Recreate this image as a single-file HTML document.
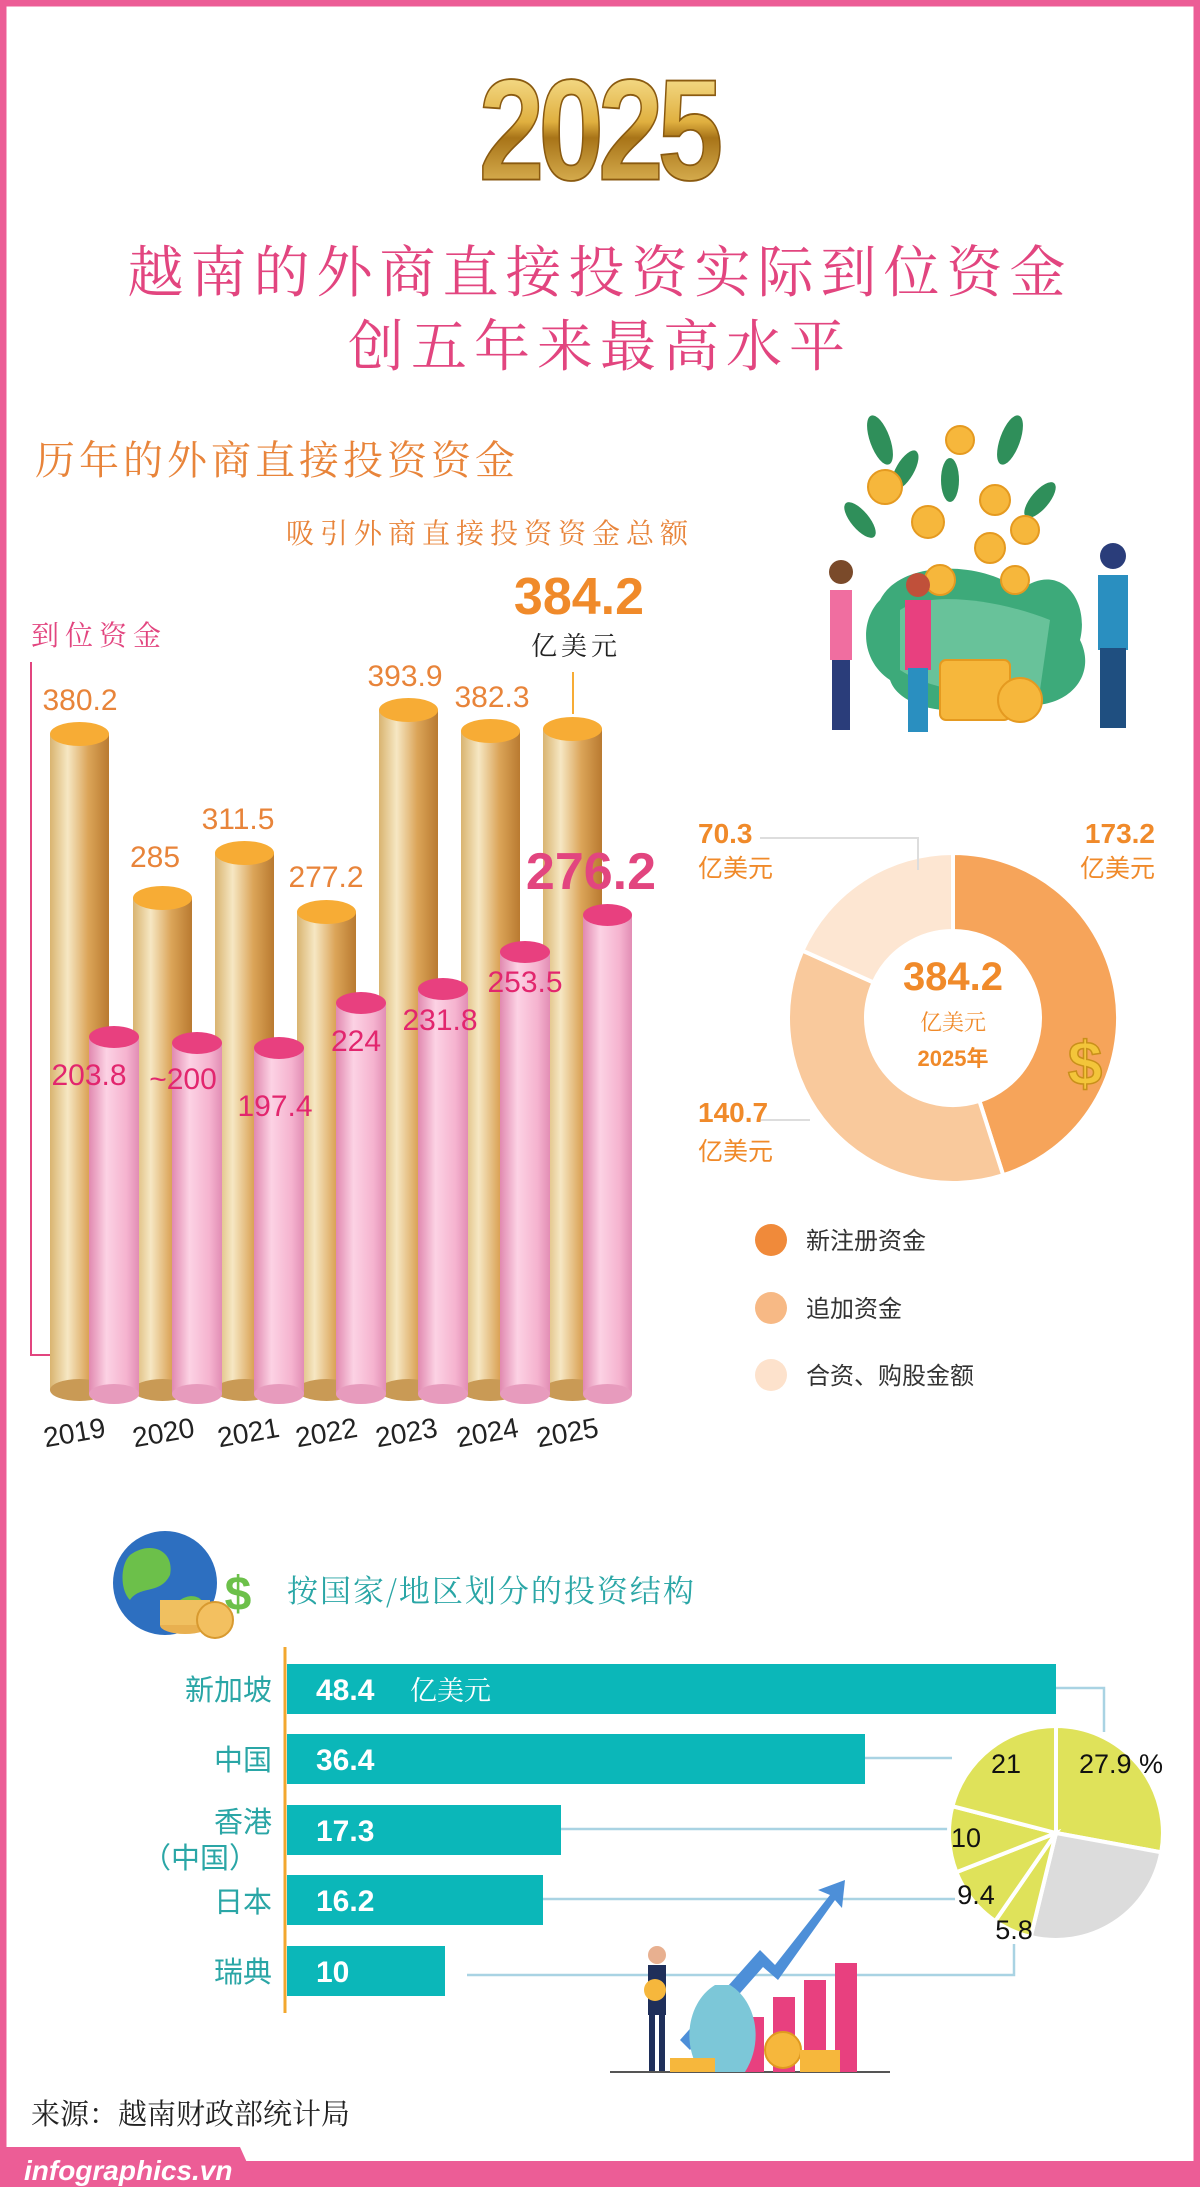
<!DOCTYPE html>
<html><head><meta charset="utf-8">
<style>
html,body{margin:0;padding:0;background:#fff;}
svg{display:block;}
text{font-family:"Liberation Sans","Noto Sans CJK SC",sans-serif;}
.s{font-family:"Noto Serif CJK SC","Liberation Serif",serif;}
</style></head><body>
<svg width="1200" height="2187" viewBox="0 0 1200 2187" xmlns="http://www.w3.org/2000/svg">
<defs>
<linearGradient id="gold" x1="0" x2="1" y1="0" y2="0">
<stop offset="0" stop-color="#d9b470"/><stop offset="0.3" stop-color="#f6e7c3"/><stop offset="0.65" stop-color="#dba458"/><stop offset="1" stop-color="#b97a30"/></linearGradient>
<linearGradient id="pink" x1="0" x2="1" y1="0" y2="0">
<stop offset="0" stop-color="#e189b0"/><stop offset="0.35" stop-color="#fcd2e4"/><stop offset="0.75" stop-color="#f5b3cf"/><stop offset="1" stop-color="#e28db5"/></linearGradient>
<linearGradient id="g25" x1="0" x2="0" y1="0" y2="1">
<stop offset="0" stop-color="#fff2b0"/><stop offset="0.45" stop-color="#e0b040"/><stop offset="0.55" stop-color="#a87418"/><stop offset="1" stop-color="#f3d070"/></linearGradient>
</defs>
<rect x="0" y="0" width="1200" height="2187" fill="#fff"/>
<rect x="3" y="3" width="1194" height="2181" fill="none" stroke="#ec5d96" stroke-width="7"/>

<text x="598" y="180" text-anchor="middle" font-size="118" font-weight="bold" fill="url(#g25)" stroke="#8a5a10" stroke-width="1.5" letter-spacing="-6" transform="translate(0,-40) scale(1,1.22)">2025</text>

<text class="s" x="600" y="292" text-anchor="middle" font-size="56" fill="#e2457f" letter-spacing="7">越南的外商直接投资实际到位资金</text>
<text class="s" x="600" y="366" text-anchor="middle" font-size="56" fill="#e2457f" letter-spacing="7">创五年来最高水平</text>

<text class="s" x="35" y="474" font-size="40" fill="#e8843a" letter-spacing="4">历年的外商直接投资资金</text>
<text class="s" x="286" y="543" font-size="28" fill="#e8843a" letter-spacing="6">吸引外商直接投资资金总额</text>
<text class="s" x="31" y="645" font-size="28" fill="#e2457f" letter-spacing="6">到位资金</text>
<path d="M31 662 V1355 H86" fill="none" stroke="#e2457f" stroke-width="2"/>

<!-- gold cylinders -->
<g>
<rect x="50" y="734" width="59" height="656" fill="url(#gold)"/><ellipse cx="79.5" cy="1390" rx="29.5" ry="11" fill="#c99a55"/><ellipse cx="79.5" cy="734" rx="29.5" ry="12" fill="#f7ac35"/>
<rect x="133" y="898" width="59" height="492" fill="url(#gold)"/><ellipse cx="162.5" cy="1390" rx="29.5" ry="11" fill="#c99a55"/><ellipse cx="162.5" cy="898" rx="29.5" ry="12" fill="#f7ac35"/>
<rect x="215" y="853" width="59" height="537" fill="url(#gold)"/><ellipse cx="244.5" cy="1390" rx="29.5" ry="11" fill="#c99a55"/><ellipse cx="244.5" cy="853" rx="29.5" ry="12" fill="#f7ac35"/>
<rect x="297" y="912" width="59" height="478" fill="url(#gold)"/><ellipse cx="326.5" cy="1390" rx="29.5" ry="11" fill="#c99a55"/><ellipse cx="326.5" cy="912" rx="29.5" ry="12" fill="#f7ac35"/>
<rect x="379" y="710" width="59" height="680" fill="url(#gold)"/><ellipse cx="408.5" cy="1390" rx="29.5" ry="11" fill="#c99a55"/><ellipse cx="408.5" cy="710" rx="29.5" ry="12" fill="#f7ac35"/>
<rect x="461" y="731" width="59" height="659" fill="url(#gold)"/><ellipse cx="490.5" cy="1390" rx="29.5" ry="11" fill="#c99a55"/><ellipse cx="490.5" cy="731" rx="29.5" ry="12" fill="#f7ac35"/>
<rect x="543" y="729" width="59" height="661" fill="url(#gold)"/><ellipse cx="572.5" cy="1390" rx="29.5" ry="11" fill="#c99a55"/><ellipse cx="572.5" cy="729" rx="29.5" ry="12" fill="#f7ac35"/>
</g>
<!-- pink cylinders -->
<g>
<rect x="89" y="1037" width="50" height="357" fill="url(#pink)"/><ellipse cx="114" cy="1394" rx="25" ry="10" fill="#e79bbd"/><ellipse cx="114" cy="1037" rx="25" ry="11" fill="#e8407f"/>
<rect x="172" y="1043" width="50" height="351" fill="url(#pink)"/><ellipse cx="197" cy="1394" rx="25" ry="10" fill="#e79bbd"/><ellipse cx="197" cy="1043" rx="25" ry="11" fill="#e8407f"/>
<rect x="254" y="1048" width="50" height="346" fill="url(#pink)"/><ellipse cx="279" cy="1394" rx="25" ry="10" fill="#e79bbd"/><ellipse cx="279" cy="1048" rx="25" ry="11" fill="#e8407f"/>
<rect x="336" y="1003" width="50" height="391" fill="url(#pink)"/><ellipse cx="361" cy="1394" rx="25" ry="10" fill="#e79bbd"/><ellipse cx="361" cy="1003" rx="25" ry="11" fill="#e8407f"/>
<rect x="418" y="989" width="50" height="405" fill="url(#pink)"/><ellipse cx="443" cy="1394" rx="25" ry="10" fill="#e79bbd"/><ellipse cx="443" cy="989" rx="25" ry="11" fill="#e8407f"/>
<rect x="500" y="952" width="50" height="442" fill="url(#pink)"/><ellipse cx="525" cy="1394" rx="25" ry="10" fill="#e79bbd"/><ellipse cx="525" cy="952" rx="25" ry="11" fill="#e8407f"/>
<rect x="583" y="915" width="49" height="479" fill="url(#pink)"/><ellipse cx="607.5" cy="1394" rx="24.5" ry="10" fill="#e79bbd"/><ellipse cx="607.5" cy="915" rx="24.5" ry="11" fill="#e8407f"/>
</g>
<g font-size="30" fill="#e8843a" text-anchor="middle">
<text x="80" y="710">380.2</text><text x="155" y="867">285</text><text x="238" y="829">311.5</text><text x="326" y="887">277.2</text><text x="405" y="686">393.9</text><text x="492" y="707">382.3</text>
</g>
<g font-size="30" fill="#e2266e" text-anchor="middle">
<text x="89" y="1085">203.8</text><text x="183" y="1089">~200</text><text x="275" y="1116">197.4</text><text x="356" y="1051">224</text><text x="440" y="1030">231.8</text><text x="525" y="992">253.5</text>
</g>
<text x="591" y="889" text-anchor="middle" font-size="52" font-weight="bold" fill="#e2457f">276.2</text>
<text x="579" y="614" text-anchor="middle" font-size="52" font-weight="bold" fill="#f08a2a">384.2</text>
<text class="s" x="576" y="655" text-anchor="middle" font-size="26" fill="#222" letter-spacing="4">亿美元</text>
<line x1="573" y1="672" x2="573" y2="714" stroke="#f7ac35" stroke-width="2"/>
<g font-size="28" fill="#222" text-anchor="middle">
<text transform="translate(76,1442) rotate(-10)">2019</text><text transform="translate(165,1442) rotate(-10)">2020</text><text transform="translate(250,1442) rotate(-10)">2021</text><text transform="translate(328,1442) rotate(-10)">2022</text><text transform="translate(408,1442) rotate(-10)">2023</text><text transform="translate(489,1442) rotate(-10)">2024</text><text transform="translate(569,1442) rotate(-10)">2025</text>
</g>

<!-- top right illustration -->
<g>
<path d="M880 600 C900 560 980 560 1020 590 C1060 560 1090 600 1080 640 C1100 680 1060 720 1000 700 C960 720 900 710 890 680 C860 660 860 620 880 600Z" fill="#3daa7a"/>
<path d="M900 610 C930 590 1000 600 1050 620 L1040 690 C990 700 930 690 900 670Z" fill="#68c29a"/>
<g fill="#2f8f5a">
<ellipse cx="880" cy="440" rx="10" ry="26" transform="rotate(-20 880 440)"/><ellipse cx="905" cy="470" rx="9" ry="22" transform="rotate(30 905 470)"/>
<ellipse cx="1010" cy="440" rx="10" ry="26" transform="rotate(20 1010 440)"/><ellipse cx="950" cy="480" rx="9" ry="22"/>
<ellipse cx="1040" cy="500" rx="9" ry="22" transform="rotate(40 1040 500)"/><ellipse cx="860" cy="520" rx="9" ry="22" transform="rotate(-40 860 520)"/>
</g>
<g fill="#f6b73c" stroke="#e59a20" stroke-width="2">
<circle cx="885" cy="487" r="17"/><circle cx="928" cy="522" r="16"/><circle cx="995" cy="500" r="15"/><circle cx="990" cy="548" r="15"/><circle cx="1025" cy="530" r="14"/><circle cx="940" cy="580" r="15"/><circle cx="1015" cy="580" r="14"/><circle cx="960" cy="440" r="14"/>
<rect x="940" y="660" width="70" height="60" rx="6"/><circle cx="1020" cy="700" r="22"/>
</g>
<g>
<rect x="830" y="590" width="22" height="70" fill="#f06ea0"/><rect x="832" y="660" width="18" height="70" fill="#2a3d7a"/><circle cx="841" cy="572" r="12" fill="#7a4a2a"/>
<rect x="905" y="600" width="26" height="70" fill="#e8407f"/><rect x="908" y="668" width="20" height="64" fill="#2a8fc0"/><circle cx="918" cy="585" r="12" fill="#c0503a"/>
<rect x="1098" y="575" width="30" height="75" fill="#2a8fc0"/><rect x="1100" y="648" width="26" height="80" fill="#1f4f80"/><circle cx="1113" cy="556" r="13" fill="#2a3d7a"/>
</g>
</g>

<!-- donut -->
<g stroke="#fff" stroke-width="4">
<path d="M953 853 A165 165 0 0 1 1003.2 1175.2 L979.4 1100.9 A87 87 0 0 0 953 931 Z" fill="#f6a45a"/>
<path d="M1003.2 1175.2 A165 165 0 0 1 802.4 950.6 L873.6 982.5 A87 87 0 0 0 979.4 1100.9 Z" fill="#f9c99c"/>
<path d="M802.4 950.6 A165 165 0 0 1 953 853 L953 931 A87 87 0 0 0 873.6 982.5 Z" fill="#fde6d2"/>
</g>
<text x="953" y="990" text-anchor="middle" font-size="40" font-weight="bold" fill="#f08a2a">384.2</text>
<text class="s" x="953" y="1030" text-anchor="middle" font-size="22" fill="#f08a2a">亿美元</text>
<text x="953" y="1066" text-anchor="middle" font-size="22" font-weight="bold" fill="#f08a2a">2025年</text>
<text x="1085" y="1085" text-anchor="middle" font-size="62" font-weight="bold" fill="#f3c53a" stroke="#c9901a" stroke-width="1.5">$</text>
<path d="M760 838 H918 V870" fill="none" stroke="#ddd" stroke-width="2"/>
<path d="M760 1120 H810" fill="none" stroke="#ddd" stroke-width="2"/>
<g font-size="28" font-weight="bold" fill="#f08a2a">
<text x="698" y="843">70.3</text><text x="1155" y="843" text-anchor="end">173.2</text><text x="698" y="1122">140.7</text>
</g>
<g class="s" font-size="25" fill="#f08a2a">
<text x="698" y="877">亿美元</text><text x="1155" y="877" text-anchor="end">亿美元</text><text x="698" y="1160">亿美元</text>
</g>
<circle cx="771" cy="1240" r="16" fill="#f08a3a"/><circle cx="771" cy="1308" r="16" fill="#f7b985"/><circle cx="771" cy="1375" r="16" fill="#fde2cc"/>
<g class="s" font-size="24" fill="#333">
<text x="806" y="1249">新注册资金</text><text x="806" y="1317">追加资金</text><text x="806" y="1384">合资、购股金额</text>
</g>

<!-- bottom section -->
<circle cx="165" cy="1583" r="52" fill="#2d6fc0"/>
<path d="M130 1555 C150 1540 175 1550 170 1575 C160 1595 140 1585 130 1600 C120 1590 120 1565 130 1555Z" fill="#6cc04a"/>
<path d="M180 1600 C195 1590 210 1600 205 1620 C195 1630 185 1625 180 1600Z" fill="#6cc04a"/>
<ellipse cx="185" cy="1625" rx="25" ry="9" fill="#e8b050"/><rect x="160" y="1600" width="50" height="25" fill="#f0c060"/>
<circle cx="215" cy="1620" r="18" fill="#f3c060" stroke="#d89a30" stroke-width="2"/>
<text x="238" y="1610" text-anchor="middle" font-size="48" font-weight="bold" fill="#6cc04a">$</text>
<text class="s" x="287" y="1602" font-size="31" fill="#2aa6a6" letter-spacing="2">按国家/地区划分的投资结构</text>

<line x1="285" y1="1647" x2="285" y2="2013" stroke="#f2a72e" stroke-width="3"/>
<g fill="#0bb7b9">
<rect x="287" y="1664" width="769" height="50"/><rect x="287" y="1734" width="578" height="50"/><rect x="287" y="1805" width="274" height="50"/><rect x="287" y="1875" width="256" height="50"/><rect x="287" y="1946" width="158" height="50"/>
</g>
<g fill="#fff" font-size="30" font-weight="bold">
<text x="316" y="1700">48.4</text><text x="316" y="1770">36.4</text><text x="316" y="1841">17.3</text><text x="316" y="1911">16.2</text><text x="316" y="1982">10</text>
</g>
<text class="s" x="410" y="1700" font-size="27" fill="#fff">亿美元</text>
<g class="s" font-size="29" fill="#2aa6a6" text-anchor="end">
<text x="272" y="1700">新加坡</text><text x="272" y="1770">中国</text><text x="272" y="1832">香港</text><text x="258" y="1868">（中国）</text><text x="272" y="1912">日本</text><text x="272" y="1982">瑞典</text>
</g>
<g fill="none" stroke="#a9d3e3" stroke-width="2.5">
<path d="M1056 1688 H1104 V1732"/><path d="M865 1758 H952"/><path d="M561 1829 H952"/><path d="M543 1899 H955"/><path d="M467 1975 H1014 V1944"/>
</g>
<g stroke="#fff" stroke-width="4">
<path d="M1056 1833 L1056 1726 A107 107 0 0 1 1161.2 1852.3 Z" fill="#dfe25a"/>
<path d="M1056 1833 L1161.2 1852.3 A107 107 0 0 1 1030.7 1936.9 Z" fill="#dcdcdc"/>
<path d="M1056 1833 L1030.7 1936.9 A107 107 0 0 1 995.2 1921.1 Z" fill="#dfe25a"/>
<path d="M1056 1833 L995.2 1921.1 A107 107 0 0 1 956.4 1872.2 Z" fill="#dfe25a"/>
<path d="M1056 1833 L956.4 1872.2 A107 107 0 0 1 952.4 1806.2 Z" fill="#dfe25a"/>
<path d="M1056 1833 L952.4 1806.2 A107 107 0 0 1 1056 1726 Z" fill="#dfe25a"/>
</g>
<g font-size="27" fill="#111">
<text x="1006" y="1773" text-anchor="middle">21</text><text x="1121" y="1773" text-anchor="middle">27.9 %</text><text x="966" y="1847" text-anchor="middle">10</text><text x="976" y="1904" text-anchor="middle">9.4</text><text x="1014" y="1939" text-anchor="middle">5.8</text>
</g>

<g>
<line x1="610" y1="2072" x2="890" y2="2072" stroke="#555" stroke-width="2"/>
<path d="M680 2040 L760 1950 L775 1965 L830 1895 L818 1890 L845 1880 L842 1908 L835 1900 L778 1980 L763 1967 L690 2050Z" fill="#4d8fd8"/>
<rect x="742" y="2017" width="22" height="55" fill="#e8407f"/><rect x="773" y="1997" width="22" height="75" fill="#e8407f"/><rect x="804" y="1980" width="22" height="92" fill="#e8407f"/><rect x="835" y="1963" width="22" height="109" fill="#e8407f"/>
<path d="M700 2072 C680 2040 690 2000 715 1985 L730 1985 C755 2000 765 2040 745 2072Z" fill="#7cc7d8"/>
<circle cx="783" cy="2050" r="18" fill="#f6b73c" stroke="#e09a20" stroke-width="2"/>
<rect x="670" y="2058" width="45" height="14" fill="#f6b73c"/><rect x="800" y="2050" width="40" height="22" fill="#f6b73c"/>
<rect x="648" y="1965" width="18" height="50" fill="#1f2f5a"/><rect x="649" y="2013" width="6" height="58" fill="#1f2f5a"/><rect x="659" y="2013" width="6" height="58" fill="#1f2f5a"/><circle cx="657" cy="1955" r="9" fill="#e8b090"/>
<circle cx="655" cy="1990" r="11" fill="#f6b73c"/>
</g>

<text class="s" x="31" y="2124" font-size="29" fill="#222">来源：越南财政部统计局</text>

<rect x="0" y="2161" width="1200" height="26" fill="#ec5d96"/>
<path d="M0 2147 H240 L258 2187 H0Z" fill="#ec5d96"/>
<text x="24" y="2180" font-size="28" font-style="italic" font-weight="bold" fill="#fff">infographics.vn</text>
</svg>
</body></html>
